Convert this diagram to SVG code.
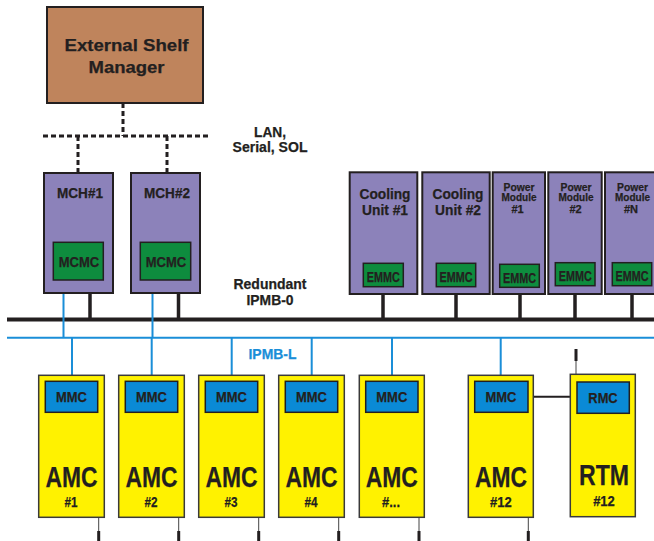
<svg xmlns="http://www.w3.org/2000/svg" width="654" height="541" viewBox="0 0 654 541">
  <style>
    text { font-family: "Liberation Sans", Arial, sans-serif; font-weight: bold; fill: #231f20; stroke: #231f20; stroke-width: 0.25; text-anchor: middle; }
    .shelf { fill: #bf845c; stroke: #231f20; stroke-width: 2; }
    .board { fill: #8c82ba; stroke: #231f20; stroke-width: 2; }
    .ctrl { fill: #0e8c3e; stroke: #231f20; stroke-width: 1.5; }
    .amc { fill: #fff200; stroke: #3a3a3a; stroke-width: 1.5; }
    .mmc { fill: #0a8ad6; stroke: #231f20; stroke-width: 1.5; }
    .dash { fill: none; stroke: #231f20; stroke-width: 3; stroke-dasharray: 5 3; }
    .bus0 { fill: none; stroke: #231f20; stroke-width: 4; }
    .stub { fill: none; stroke: #231f20; stroke-width: 3.5; }
    .ipmbl { fill: none; stroke: #1a8ed8; stroke-width: 2; }
    .thin { fill: none; stroke: #444; stroke-width: 1; }
    .pin { fill: none; stroke: #231f20; stroke-width: 3; }
    .link { fill: none; stroke: #231f20; stroke-width: 2; }
    .t14 { font-size: 14px; }
    .t11 { font-size: 11px; }
    .mm { font-size: 15px; }
    .em { font-size: 14px; }
    .big { font-size: 29px; }
    text.blue { fill: #1a8ed8; stroke: #1a8ed8; }
  </style>

  <!-- buses and connectors -->
  <g id="connectors">
    <!-- LAN / Serial / SOL dashed tree -->
    <path class="dash" d="M123 103 V136 M43 136 H208 M78 136 V173 M167 136 V173"/>
    <!-- Redundant IPMB-0 -->
    <path class="bus0" d="M7 319.5 H654"/>
    <path class="stub" d="M90 280 V319 M178.5 280 V319 M383 287 V319 M456 287 V319 M520 287 V319 M575 286 V319 M632 286 V319"/>
    <!-- IPMB-L -->
    <path class="ipmbl" d="M7 337.7 H654"/>
    <path class="ipmbl" d="M63.5 280 V337.7 M152.5 280 V337.7"/>
    <path class="ipmbl" d="M72 337.7 V381 M151.7 337.7 V381 M231.7 337.7 V381 M311.7 337.7 V381 M392 337.7 V381 M500.7 337.7 V381"/>
    <!-- MMC #12 to RMC -->
    <path class="link" d="M528 396.7 H577"/>
    <!-- connector pins -->
    <path class="thin" d="M98.7 517 V532 M178.7 517 V532 M258.7 517 V532 M338.7 517 V532 M419 517 V532 M528.3 517 V532 M576 360 V374"/>
    <path class="pin" d="M98.7 531 V541 M178.7 531 V541 M258.7 531 V541 M338.7 531 V541 M419 531 V541 M528.3 531 V541 M576 349 V361"/>
  </g>

  <!-- bus labels -->
  <text class="t14" x="270" y="136.7" textLength="32" lengthAdjust="spacingAndGlyphs">LAN,</text>
  <text class="t14" x="270" y="152.3" textLength="75" lengthAdjust="spacingAndGlyphs">Serial, SOL</text>
  <text class="t14" x="270" y="289.3" textLength="73" lengthAdjust="spacingAndGlyphs">Redundant</text>
  <text class="t14" x="270" y="305" textLength="47" lengthAdjust="spacingAndGlyphs">IPMB-0</text>
  <text class="t14 blue" x="272.5" y="359.3" textLength="48" lengthAdjust="spacingAndGlyphs">IPMB-L</text>

  <g id="shelf-manager">
    <rect class="shelf" x="47" y="7" width="156" height="96"/>
    <text x="126.5" y="50.5" font-size="17" textLength="124" lengthAdjust="spacingAndGlyphs">External Shelf</text>
    <text x="126.5" y="72.5" font-size="17" textLength="76" lengthAdjust="spacingAndGlyphs">Manager</text>
  </g>

  <g id="mch1">
    <rect class="board" x="44" y="173" width="69" height="120"/>
    <text class="t14" x="80" y="198.3" textLength="46" lengthAdjust="spacingAndGlyphs">MCH#1</text>
    <rect class="ctrl" x="53.3" y="242.3" width="50" height="37.7"/>
    <text class="t14" x="79" y="267.3" textLength="40.5" lengthAdjust="spacingAndGlyphs">MCMC</text>
  </g>
  <g id="mch2">
    <rect class="board" x="131" y="173" width="69" height="120"/>
    <text class="t14" x="167" y="198.3" textLength="46" lengthAdjust="spacingAndGlyphs">MCH#2</text>
    <rect class="ctrl" x="140.3" y="242.3" width="50.4" height="37.7"/>
    <text class="t14" x="166" y="267.3" textLength="40.5" lengthAdjust="spacingAndGlyphs">MCMC</text>
  </g>

  <g id="cooling1">
    <rect class="board" x="349.7" y="172.3" width="67.6" height="121.7"/>
    <text x="385" y="199" font-size="15" textLength="51" lengthAdjust="spacingAndGlyphs">Cooling</text>
    <text x="385" y="214.5" font-size="15" textLength="46" lengthAdjust="spacingAndGlyphs">Unit #1</text>
    <rect class="ctrl" x="363.3" y="263.3" width="40" height="23.4"/>
    <text class="em" x="383.3" y="281.7" textLength="33" lengthAdjust="spacingAndGlyphs">EMMC</text>
  </g>
  <g id="cooling2">
    <rect class="board" x="422.3" y="172.3" width="67.4" height="121.7"/>
    <text x="458" y="199" font-size="15" textLength="51" lengthAdjust="spacingAndGlyphs">Cooling</text>
    <text x="458" y="214.5" font-size="15" textLength="46" lengthAdjust="spacingAndGlyphs">Unit #2</text>
    <rect class="ctrl" x="436.3" y="263.3" width="39.4" height="23.4"/>
    <text class="em" x="456" y="281.7" textLength="33" lengthAdjust="spacingAndGlyphs">EMMC</text>
  </g>
  <g id="power1">
    <rect class="board" x="492.7" y="172.3" width="52.3" height="121.7"/>
    <text class="t11" x="519" y="190.5" textLength="31" lengthAdjust="spacingAndGlyphs">Power</text>
    <text class="t11" x="519" y="201.3" textLength="35" lengthAdjust="spacingAndGlyphs">Module</text>
    <text class="t11" x="517.5" y="212.7">#1</text>
    <rect class="ctrl" x="499.7" y="264.3" width="39.6" height="23"/>
    <text class="em" x="519.5" y="282.5" textLength="33" lengthAdjust="spacingAndGlyphs">EMMC</text>
  </g>
  <g id="power2">
    <rect class="board" x="548.3" y="172.3" width="53.4" height="121.7"/>
    <text class="t11" x="576" y="190.5" textLength="31" lengthAdjust="spacingAndGlyphs">Power</text>
    <text class="t11" x="576" y="201.3" textLength="35" lengthAdjust="spacingAndGlyphs">Module</text>
    <text class="t11" x="575.5" y="212.7">#2</text>
    <rect class="ctrl" x="555.3" y="262.7" width="39.7" height="23"/>
    <text class="em" x="575.2" y="280.9" textLength="33" lengthAdjust="spacingAndGlyphs">EMMC</text>
  </g>
  <g id="powerN">
    <rect class="board" x="605" y="172.3" width="53" height="121.7"/>
    <text class="t11" x="632.5" y="190.5" textLength="31" lengthAdjust="spacingAndGlyphs">Power</text>
    <text class="t11" x="632.5" y="201.3" textLength="35" lengthAdjust="spacingAndGlyphs">Module</text>
    <text class="t11" x="631" y="212.7">#N</text>
    <rect class="ctrl" x="612.3" y="262.7" width="39.4" height="23"/>
    <text class="em" x="632" y="280.9" textLength="33" lengthAdjust="spacingAndGlyphs">EMMC</text>
  </g>

  <g id="amc1">
    <rect class="amc" x="38.7" y="375.3" width="65.6" height="142"/>
    <rect class="mmc" x="45.3" y="381.3" width="52.4" height="31"/>
    <text class="mm" x="71.5" y="402.3" textLength="31" lengthAdjust="spacingAndGlyphs">MMC</text>
    <text class="big" x="71.5" y="486.7" textLength="52" lengthAdjust="spacingAndGlyphs">AMC</text>
    <text class="t14" x="71" y="507.3" textLength="13" lengthAdjust="spacingAndGlyphs">#1</text>
  </g>
  <g id="amc2">
    <rect class="amc" x="118.7" y="375.3" width="65.6" height="142"/>
    <rect class="mmc" x="125.3" y="381.3" width="52.4" height="31"/>
    <text class="mm" x="151.5" y="402.3" textLength="31" lengthAdjust="spacingAndGlyphs">MMC</text>
    <text class="big" x="151.5" y="486.7" textLength="52" lengthAdjust="spacingAndGlyphs">AMC</text>
    <text class="t14" x="151" y="507.3" textLength="13" lengthAdjust="spacingAndGlyphs">#2</text>
  </g>
  <g id="amc3">
    <rect class="amc" x="198.7" y="375.3" width="65.6" height="142"/>
    <rect class="mmc" x="205.3" y="381.3" width="52.4" height="31"/>
    <text class="mm" x="231.5" y="402.3" textLength="31" lengthAdjust="spacingAndGlyphs">MMC</text>
    <text class="big" x="231.5" y="486.7" textLength="52" lengthAdjust="spacingAndGlyphs">AMC</text>
    <text class="t14" x="231" y="507.3" textLength="13" lengthAdjust="spacingAndGlyphs">#3</text>
  </g>
  <g id="amc4">
    <rect class="amc" x="278.7" y="375.3" width="65.6" height="142"/>
    <rect class="mmc" x="285.3" y="381.3" width="52.4" height="31"/>
    <text class="mm" x="311.5" y="402.3" textLength="31" lengthAdjust="spacingAndGlyphs">MMC</text>
    <text class="big" x="311.5" y="486.7" textLength="52" lengthAdjust="spacingAndGlyphs">AMC</text>
    <text class="t14" x="311" y="507.3" textLength="13" lengthAdjust="spacingAndGlyphs">#4</text>
  </g>
  <g id="amc-more">
    <rect class="amc" x="359.3" y="375.3" width="65" height="142"/>
    <rect class="mmc" x="365.7" y="381.3" width="52.3" height="31"/>
    <text class="mm" x="391.8" y="402.3" textLength="31" lengthAdjust="spacingAndGlyphs">MMC</text>
    <text class="big" x="391.8" y="486.7" textLength="52" lengthAdjust="spacingAndGlyphs">AMC</text>
    <text class="t14" x="391" y="507.3" textLength="18" lengthAdjust="spacingAndGlyphs">#...</text>
  </g>
  <g id="amc12">
    <rect class="amc" x="468.3" y="375.3" width="65" height="142"/>
    <rect class="mmc" x="474.7" y="381.3" width="53.3" height="31"/>
    <text class="mm" x="501" y="402.3" textLength="31" lengthAdjust="spacingAndGlyphs">MMC</text>
    <text class="big" x="501" y="486.7" textLength="52" lengthAdjust="spacingAndGlyphs">AMC</text>
    <text class="t14" x="500.8" y="507.3" textLength="21.7" lengthAdjust="spacingAndGlyphs">#12</text>
  </g>
  <g id="rtm12">
    <rect class="amc" x="570.3" y="374.3" width="65" height="142.4"/>
    <rect class="mmc" x="577" y="382" width="52.3" height="31.3"/>
    <text class="mm" x="603" y="403.3" textLength="29.3" lengthAdjust="spacingAndGlyphs">RMC</text>
    <text class="big" x="604" y="485" textLength="50" lengthAdjust="spacingAndGlyphs">RTM</text>
    <text class="t14" x="604" y="506" textLength="21.7" lengthAdjust="spacingAndGlyphs">#12</text>
  </g>
</svg>
